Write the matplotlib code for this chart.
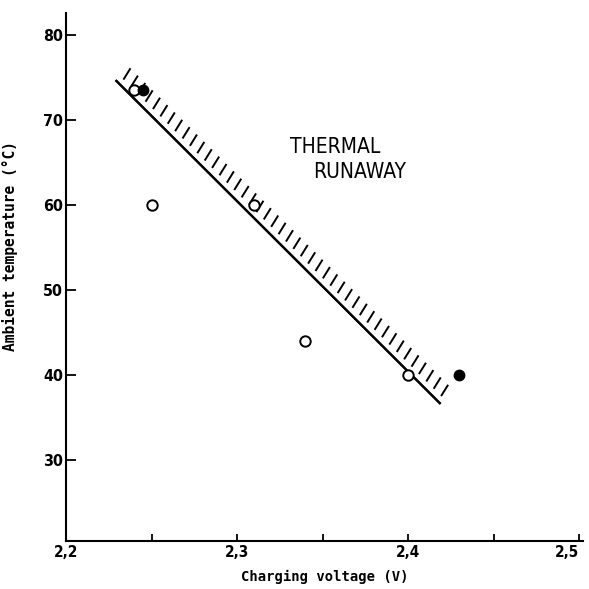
import matplotlib
matplotlib.use("Agg")
import matplotlib.pyplot as plt
from matplotlib import patheffects
from matplotlib.ticker import MultipleLocator, FixedLocator

# ---- data ----
open_v = [2.24, 2.25, 2.31, 2.34, 2.40]
open_t = [73.5, 60.0, 60.0, 44.0, 40.0]
filled_v = [2.245, 2.43]
filled_t = [73.5, 40.0]
boundary_v = [2.229, 2.419]
boundary_t = [74.7, 36.6]
xticks = [2.2, 2.3, 2.4, 2.5]
xtick_labels = ["2,2", "2,3", "2,4", "2,5"]
yticks = [30, 40, 50, 60, 70, 80]
ytick_labels = ["30", "40", "50", "60", "70", "80"]

narrow = dict(family="DejaVu Sans", stretch="condensed")

fig = plt.figure(figsize=(5.89, 5.89), dpi=100)
ax = fig.add_axes([0.1121, 0.0815, 0.8777, 0.8964])
ax.set_xlim(2.2, 2.5023)
ax.set_ylim(20.47, 82.6)

for s in ("top", "right"):
    ax.spines[s].set_visible(False)
for s in ("left", "bottom"):
    ax.spines[s].set_linewidth(1.5)

ax.plot(boundary_v, boundary_t, color="black", lw=1.6, solid_capstyle="butt",
        path_effects=[patheffects.Normal(),
                      patheffects.withTickedStroke(offset=(3.0, 3.0), angle=103,
                                                   spacing=7.4, length=1.3,
                                                   linewidth=1.4, foreground="black")])

ax.plot(open_v, open_t, "o", ms=7.5, mfc="white", mec="black", mew=1.4, ls="none", zorder=3)
ax.plot(filled_v, filled_t, "o", ms=7.5, mfc="black", mec="black", ls="none", zorder=3)

ax.xaxis.set_major_locator(FixedLocator(xticks))
ax.xaxis.set_minor_locator(MultipleLocator(0.05))
ax.set_xticklabels(xtick_labels, fontsize=11, fontweight="bold", **narrow)
ax.xaxis.get_major_ticks()[-1].label1.set_horizontalalignment("right")
ax.yaxis.set_major_locator(FixedLocator(yticks))
ax.set_yticklabels(ytick_labels, fontsize=11.5, fontweight="bold", **narrow)
ax.tick_params(axis="x", which="both", direction="in", length=5, width=1.3, pad=3)
ax.tick_params(axis="y", which="major", direction="in", length=7, width=1.3, pad=2)

ax.set_xlabel("Charging voltage (V)", fontsize=10, family="DejaVu Sans Mono",
              fontweight="bold", labelpad=7)
ax.set_ylabel("Ambient temperature (\u00b0C)", fontsize=10.5, family="DejaVu Sans Mono",
              fontweight="bold")
ax.yaxis.set_label_coords(-0.093, 0.559)

ax.text(2.331, 66.1, "THERMAL", fontsize=15, ha="left", va="baseline", **narrow)
ax.text(2.3444, 63.2, "RUNAWAY", fontsize=15, ha="left", va="baseline", **narrow)

fig.savefig("out.png", dpi=100, facecolor="white")
